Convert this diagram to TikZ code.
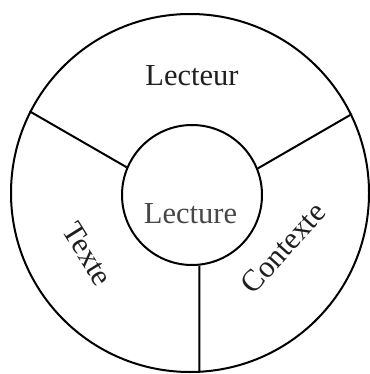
\documentclass[tikz,border=0pt]{standalone}
\usepackage{fontspec}
\setmainfont{Liberation Serif}
\begin{document}
\begin{tikzpicture}[x=1pt,y=-1pt,
  ring/.style={draw=black,line width=2pt,circle,inner sep=0pt},
  spoke/.style={draw=black,line width=2pt},
  lab/.style={font=\fontsize{30.5}{34}\selectfont,text=black!88,inner sep=0pt}]
\useasboundingbox (0,0) rectangle (369,374);
\node[ring,minimum size=358pt] (outer) at (190,193) {};
\node[ring,minimum size=140pt] (inner) at (192,195) {};
\draw[spoke] (inner.157) -- (outer.153.5);
\draw[spoke] (inner.22) -- (outer.26.5);
\draw[spoke] (inner.-84) -- (outer.-87.5);
\node[lab] (lecteur) at (192,76) {Lecteur};
\node[lab,text=black!72] (lecture) at (190.5,214) {Lecture};
\node[lab,rotate=-58] (texte) at (87.5,254) {Texte};
\node[lab,rotate=48] (contexte) at (283,248) {Contexte};
\end{tikzpicture}
\end{document}
